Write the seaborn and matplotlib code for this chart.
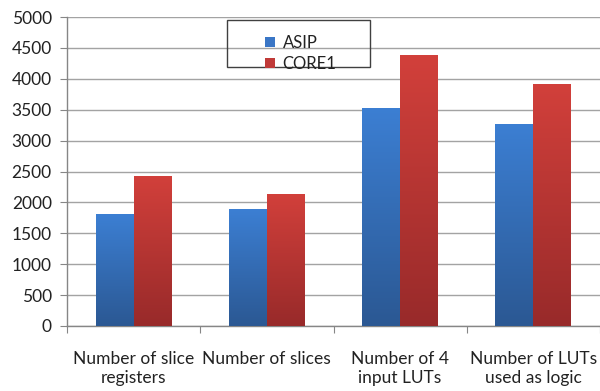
import numpy as np
import pandas as pd
import matplotlib
matplotlib.use('Agg')
import matplotlib.pyplot as plt
import seaborn as sns
from matplotlib.patches import Rectangle, Patch
from matplotlib.colors import LinearSegmentedColormap

# Data
categories = ['Number of slice\nregisters', 'Number of slices',
              'Number of 4\ninput LUTs', 'Number of LUTs\nused as logic']
series = ['ASIP', 'CORE1']
asip = [1810, 1890, 3530, 3270]
core1 = [2430, 2140, 4385, 3920]
yticks = list(range(0, 5001, 500))

df = pd.DataFrame({
    'category': categories * 2,
    'value': asip + core1,
    'series': [series[0]] * len(asip) + [series[1]] * len(core1),
})

# colours: flat (legend) and gradient top / bottom for bars
flat_colors = ['#3a76c6', '#c03a38']
grad_colors = [('#3c7fd3', '#2b5893'), ('#d2403b', '#982a2a')]

sns.set_style('white')
plt.rcParams['font.family'] = ['Lato', 'DejaVu Sans']
text_color = '#222222'

fig = plt.figure(figsize=(6, 3.91), dpi=100)
ax = fig.add_axes([67 / 600, 1 - 326 / 391, 533 / 600, 309 / 391])

sns.barplot(data=df, x='category', y='value', hue='series', palette=flat_colors,
            width=0.57, ax=ax, legend=False, saturation=1)

# paint a vertical gradient inside each bar
for cont, (top, bot) in zip(ax.containers, grad_colors):
    cmap = LinearSegmentedColormap.from_list('g', [bot, top])
    grad = np.linspace(0, 1, 256).reshape(-1, 1)
    for bar in cont:
        x0, w, h = bar.get_x(), bar.get_width(), bar.get_height()
        im = ax.imshow(grad, cmap=cmap, origin='lower', aspect='auto',
                       extent=[x0, x0 + w, 0, h], zorder=3)
        im.set_clip_path(bar)
        bar.set_facecolor('none')
        bar.set_edgecolor('none')

ax.set_xlim(-0.5, len(categories) - 0.5)
ax.set_ylim(0, 5000)
ax.set_yticks(yticks)
ax.set_yticklabels([str(v) for v in yticks], fontsize=12.5, color=text_color)
ax.yaxis.grid(True, color='#a3a3a3', lw=1)
ax.set_axisbelow(True)

# category separators as major ticks, labels on minor ticks
ax.set_xticks(np.arange(-0.5, len(categories), 1.0))
ax.set_xticklabels([])
ax.set_xticks(range(len(categories)), minor=True)
ax.set_xticklabels(categories, minor=True, fontsize=12.5, color=text_color)
ax.tick_params(axis='x', which='major', length=5, color='#868686', direction='out', bottom=True)
ax.tick_params(axis='x', which='minor', length=0, pad=18)
ax.tick_params(axis='y', length=5, color='#868686', direction='out', left=True, pad=6)

ax.set_xlabel('')
ax.set_ylabel('')
for s in ['top', 'right']:
    ax.spines[s].set_visible(False)
for s in ['left', 'bottom']:
    ax.spines[s].set_color('#868686')
    ax.spines[s].set_linewidth(1)

# legend with a wide see-through frame
handles = [Patch(facecolor=c, edgecolor='none') for c in flat_colors]
fig.legend(handles, series, loc='upper left', bbox_to_anchor=(250 / 600, 1 - 20 / 391),
           frameon=False, fontsize=12, handlelength=0.6, handleheight=0.6,
           handletextpad=0.45, labelspacing=0.3, labelcolor=text_color)
fig.patches.append(Rectangle((227 / 600, 1 - 67 / 391), 143 / 600, 47 / 391,
                             transform=fig.transFigure, fill=False,
                             edgecolor='#404040', lw=1))

fig.savefig('out.png', dpi=100)
